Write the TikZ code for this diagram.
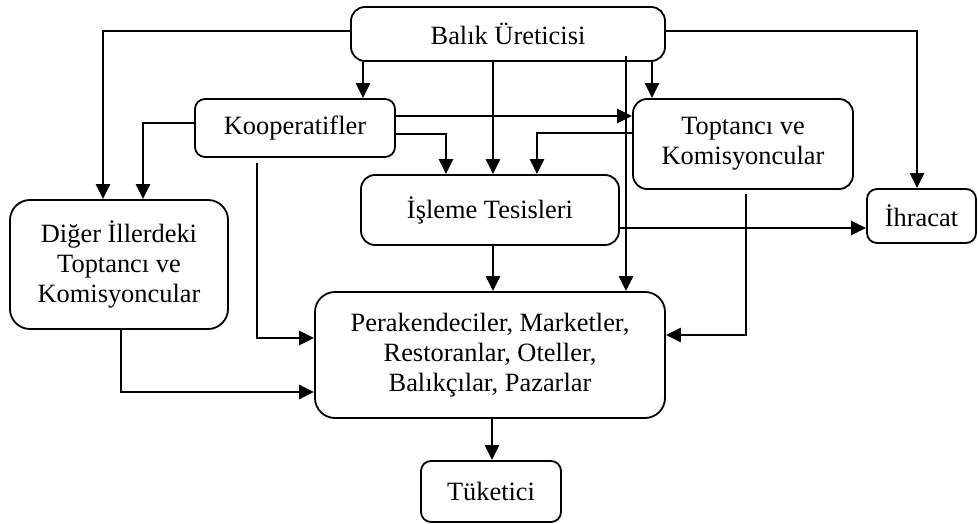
\documentclass[tikz,border=0pt]{standalone}
\usepackage{fontspec}
\setmainfont{Liberation Serif}
\usetikzlibrary{arrows.meta,calc}
\begin{document}
\begin{tikzpicture}[x=1pt,y=-1pt,
  box/.style={draw,line width=1.8pt,rounded corners=14pt,inner sep=0pt,align=center,
    font=\fontsize{26.4}{30}\selectfont},
  arr/.style={line width=2.3pt,-{Triangle[length=15pt,width=14pt]}},
  ln/.style={line width=2.3pt}]
\useasboundingbox (0,0) rectangle (978,524);
\node[box,minimum width=314pt,minimum height=54pt] (bal) at (508,34) {Balık Üreticisi};
\node[box,minimum width=200pt,minimum height=58pt,rounded corners=10pt] (koop) at (295,128) {Kooperatifler};
\node[box,minimum width=220pt,minimum height=90pt] (top) at (743,144) {Toptancı ve\\Komisyoncular};
\node[box,minimum width=258pt,minimum height=70pt] (isl) at (490,210) {\raisebox{4pt}{İşleme Tesisleri}};
\node[box,minimum width=218pt,minimum height=129pt,rounded corners=20pt] (dig) at (119,264.5) {Diğer İllerdeki\\Toptancı ve\\Komisyoncular};
\node[box,minimum width=109pt,minimum height=54pt,rounded corners=10pt] (ihr) at (921.5,216) {İhracat};
\node[box,minimum width=350pt,minimum height=126pt,rounded corners=20pt] (per) at (490,355) {Perakendeciler, Marketler,\\Restoranlar, Oteller,\\Balıkçılar, Pazarlar};
\node[box,minimum width=140pt,minimum height=61pt,rounded corners=10pt] (tuk) at (491,491.5) {Tüketici};
% coordinates
\coordinate (b1) at ([yshift=3pt]bal.west);
\coordinate (b2) at ([xshift=-145pt]bal.south);
\coordinate (b3) at ([xshift=-15pt]bal.south);
\coordinate (b4) at ([xshift=144pt]bal.south);
\coordinate (b5) at ([xshift=118pt,yshift=6pt]bal.south);
\coordinate (b6) at ([yshift=3pt]bal.east);
\coordinate (k1) at ([yshift=5pt]koop.west);
\coordinate (k2) at ([yshift=12pt]koop.east);
\coordinate (k3) at ([yshift=-6pt]koop.east);
\coordinate (k4) at ([xshift=-38pt,yshift=-5pt]koop.south);
\coordinate (t1) at ([yshift=11pt]top.west);
\coordinate (t2) at ([xshift=3pt,yshift=-4pt]top.south);
\coordinate (i1) at ([yshift=-18pt]isl.east);
\coordinate (i2) at ([xshift=3pt]isl.south);
\coordinate (d1) at ([xshift=2pt]dig.south);
\coordinate (p1) at ([xshift=2pt]per.south);
% connectors
\draw[arr] (b1) -| ([xshift=-16pt]dig.north);
\draw[arr] (b2) -- (b2 |- koop.north);
\draw[arr] (b3) -- (b3 |- isl.north);
\draw[arr] (b4) -- (b4 |- top.north);
\draw[arr] (b5) -- (b5 |- per.north);
\draw[arr] (b6) -| ([xshift=-4.5pt]ihr.north);
\draw[arr] (k1) -| ([xshift=24pt]dig.north);
\draw[arr] (k2) -- (k2 -| top.west);
\draw[arr] (k3) -| ([xshift=-44pt]isl.north);
\draw[arr] (k4) |- ([yshift=17pt]per.west);
\draw[arr] (t1) -| ([xshift=47pt]isl.north);
\draw[arr] (t2) |- ([yshift=20pt]per.east);
\draw[arr] (i1) -- (i1 -| ihr.west);
\draw[arr] (i2) -- (i2 |- per.north);
\draw[arr] (d1) |- ([yshift=-37pt]per.west);
\draw[arr] (p1) -- (p1 |- tuk.north);
\end{tikzpicture}
\end{document}
